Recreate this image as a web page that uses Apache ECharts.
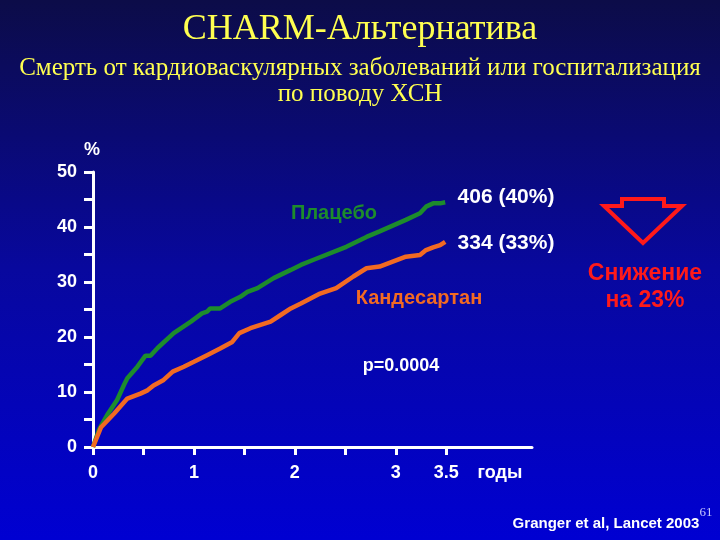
<!DOCTYPE html>
<html><head><meta charset="utf-8">
<script src="https://cdn.jsdelivr.net/npm/echarts@6/dist/echarts.min.js"></script>
<style>html,body{margin:0;padding:0;background:#000060}#c{width:720px;height:540px}</style>
</head><body><div id="c"></div>
<script>
// Data (years, % with event)
const placeboX = [0,0.06,0.14,0.24,0.31,0.34,0.44,0.52,0.57,0.64,0.80,0.97,1.08,1.13,1.16,1.26,1.36,1.46,1.53,1.63,1.79,1.96,2.06,2.18,2.51,2.71,2.84,3.10,3.24,3.30,3.37,3.44,3.49];
const placeboY = [0,3.2,5.8,8.6,11.4,12.5,14.6,16.6,16.6,18.0,20.7,22.8,24.3,24.6,25.2,25.2,26.4,27.3,28.2,28.9,30.7,32.2,33.1,34.0,36.4,38.2,39.2,41.3,42.5,43.7,44.3,44.3,44.5];
const candX = [0,0.08,0.21,0.34,0.47,0.54,0.60,0.70,0.79,0.90,1.00,1.13,1.26,1.38,1.45,1.56,1.66,1.76,1.86,1.96,2.06,2.25,2.41,2.58,2.71,2.84,2.97,3.10,3.24,3.30,3.37,3.44,3.49];
const candY = [0,3.6,6.1,8.8,9.7,10.3,11.2,12.2,13.7,14.6,15.5,16.7,17.9,19.1,20.7,21.6,22.2,22.8,24.0,25.2,26.1,27.9,28.9,31.0,32.5,32.8,33.7,34.6,34.9,35.8,36.3,36.7,37.3];
const xTickValues = [0,0.5,1,1.5,2,2.5,3,3.5];
const xLabelValues = [0,1,2,3,3.5];
const seriesNames = ['Плацебо','Кандесартан'];
const endLabels = ['406 (40%)','334 (33%)'];

const chart = echarts.init(document.getElementById('c'), null, {renderer:'canvas'});
const white = '#ffffff';
const font = '"Liberation Sans", Arial, sans-serif';
const serif = '"Liberation Serif", "Times New Roman", serif';
const yellow = '#ffff50';
const green = '#1d8c2c';
const orange = '#f26a22';
const red = '#ff1a1a';
function t(x,y,text,size,color){
  return {type:'text',x:x,y:y,style:{text:text,fill:color,font:'bold '+size+'px '+font,textAlign:'center',textVerticalAlign:'middle'}};
}
function s(y,text,size){
  return {type:'text',x:360,y:y,style:{text:text,fill:yellow,font:size+'px '+serif,textAlign:'center',textVerticalAlign:'top'}};
}
chart.setOption({
  backgroundColor:{type:'linear',x:0,y:0,x2:0,y2:1,colorStops:[{offset:0,color:'#0c0c48'},{offset:0.5,color:'#08089e'},{offset:1,color:'#0000d2'}]},
  animation:false,
  grid:{left:93,top:172,right:188,bottom:93,containLabel:false},
  xAxis:{type:'value',min:0,max:4.35,
    axisLine:{show:true,lineStyle:{color:white,width:3}},
    axisTick:{show:true,length:8,lineStyle:{color:white,width:3},customValues:xTickValues},
    axisLabel:{color:white,fontSize:18,fontWeight:'bold',fontFamily:font,margin:17,customValues:xLabelValues,formatter:v=>String(v)},
    splitLine:{show:false}},
  yAxis:{type:'value',min:0,max:50,interval:5,
    axisLine:{show:true,lineStyle:{color:white,width:3}},
    axisTick:{show:true,length:9,lineStyle:{color:white,width:3}},
    axisLabel:{color:white,fontSize:18,fontWeight:'bold',fontFamily:font,margin:16,formatter:v=>(v%10===0?String(v):'')},
    splitLine:{show:false}},
  series:[
    {name:seriesNames[0],type:'line',data:placeboX.map((x,i)=>[x,placeboY[i]]),showSymbol:false,lineStyle:{color:green,width:4.5},z:3},
    {name:seriesNames[1],type:'line',data:candX.map((x,i)=>[x,candY[i]]),showSymbol:false,lineStyle:{color:orange,width:4.5},z:3}
  ],
  graphic:[
    s(12,'CHARM-Альтернатива',36),
    s(56,'Смерть от кардиоваскулярных заболеваний или госпитализация',25),
    s(82,'по поводу ХСН',25),
    t(92,150,'%',18,white),
    t(500,473,'годы',18,white),
    t(334,213,seriesNames[0],20,green),
    t(419,298,seriesNames[1],20,orange),
    t(506,197,endLabels[0],21,white),
    t(506,243,endLabels[1],21,white),
    t(401,366,'p=0.0004',18,white),
    t(645,274,'Снижение',23,red),
    t(645,301,'на 23%',23,red),
    {type:'polygon',shape:{points:[[622,199],[664,199],[664,206],[682,206],[643,243],[604,206],[622,206]]},style:{fill:'none',stroke:red,lineWidth:4,lineJoin:'miter'}},
    {type:'text',x:706,y:513,style:{text:'61',fill:'#c8c8ff',font:'13px '+serif,textAlign:'center',textVerticalAlign:'middle'}},
    t(606,524,'Granger et al, Lancet 2003',15,white)
  ]
});
</script></body></html>
